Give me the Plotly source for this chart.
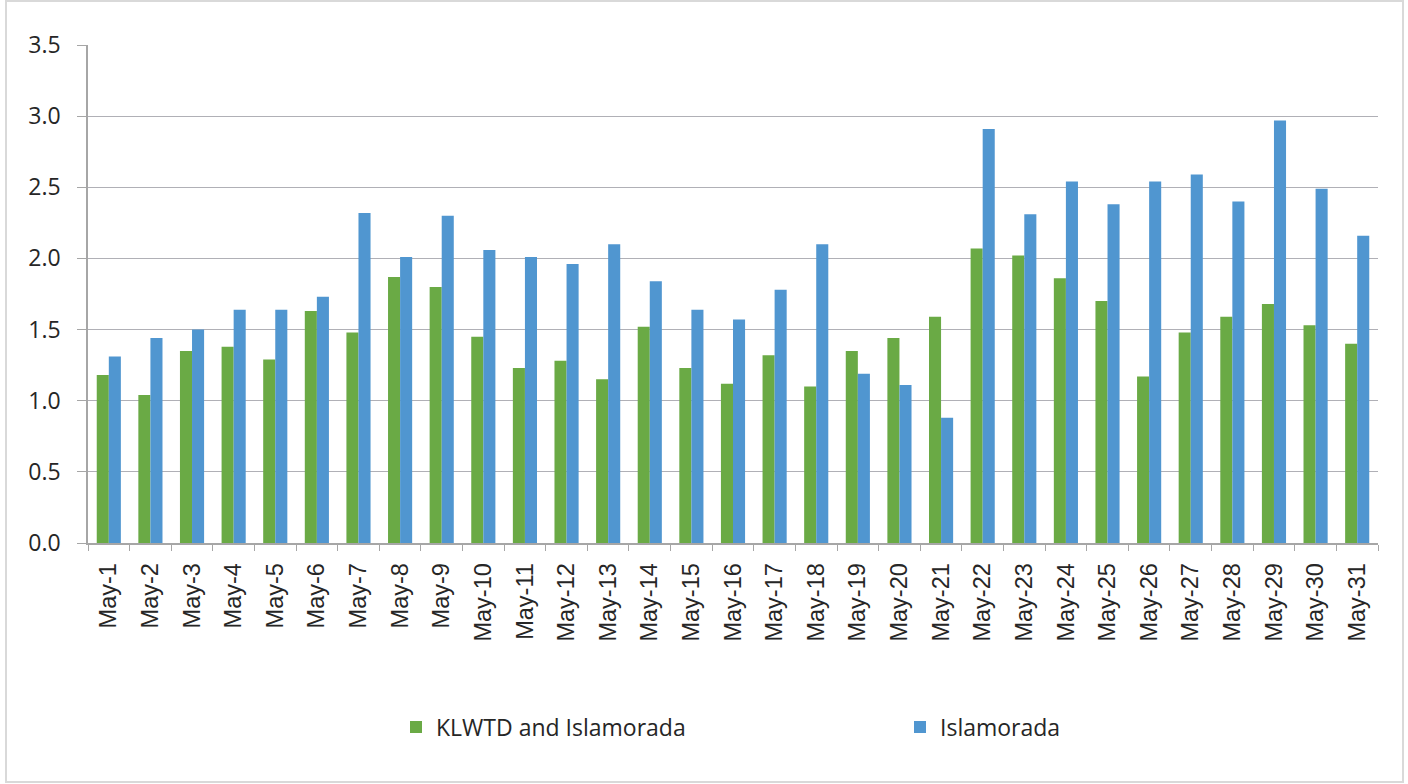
import plotly.graph_objects as go

days = [f"May-{i}" for i in range(1, 32)]
klwtd = [1.18, 1.04, 1.35, 1.38, 1.29, 1.63, 1.48, 1.87, 1.80, 1.45,
         1.23, 1.28, 1.15, 1.52, 1.23, 1.12, 1.32, 1.10, 1.35, 1.44,
         1.59, 2.07, 2.02, 1.86, 1.70, 1.17, 1.48, 1.59, 1.68, 1.53, 1.40]
islamorada = [1.31, 1.44, 1.50, 1.64, 1.64, 1.73, 2.32, 2.01, 2.30, 2.06,
              2.01, 1.96, 2.10, 1.84, 1.64, 1.57, 1.78, 2.10, 1.19, 1.11,
              0.88, 2.91, 2.31, 2.54, 2.38, 2.54, 2.59, 2.40, 2.97, 2.49, 2.16]
yticks = [0.0, 0.5, 1.0, 1.5, 2.0, 2.5, 3.0, 3.5]

W, H = 1408, 784
L, R, T, B = 88, 1378, 45, 543
pw, ph = R - L, B - T

def px(x):
    return (x - L) / pw

def py(y):
    return (B - y) / ph

fig = go.Figure()
fig.add_trace(go.Bar(x=days, y=klwtd, name="KLWTD and Islamorada",
                     marker=dict(color="#6AAA45", line=dict(width=0)),
                     legend="legend"))
fig.add_trace(go.Bar(x=days, y=islamorada, name="Islamorada",
                     marker=dict(color="#5096D0", line=dict(width=0)),
                     legend="legend2"))

leg_common = dict(orientation="h", yanchor="middle", xanchor="left",
                  font=dict(family="Open Sans, sans-serif", size=23, color="#262626"),
                  bgcolor="rgba(0,0,0,0)", itemwidth=30)

fig.update_layout(
    width=W, height=H,
    margin=dict(l=L, r=W - R, t=T, b=H - B, pad=0),
    paper_bgcolor="white", plot_bgcolor="white",
    barmode="group", bargap=0.42, bargroupgap=0,
    font=dict(family="Liberation Sans, Arial, sans-serif", color="#262626", size=18),
    showlegend=True,
    legend=dict(x=px(396), y=py(727), **leg_common),
    legend2=dict(x=px(900), y=py(727), **leg_common),
    xaxis=dict(type="category", tickangle=-90, showgrid=False,
               showline=True, linecolor="#A6A6A6", linewidth=1.5,
               ticks="outside", ticklen=6, tickcolor="#A6A6A6",
               tickson="boundaries", ticklabelstandoff=9,
               tickfont=dict(family="Liberation Sans, Arial, sans-serif", size=23.5, color="#262626"),
               range=[-0.5, 30.5]),
    yaxis=dict(range=[0, 3.5], tickvals=yticks, tickformat=".1f",
               showgrid=True, gridcolor="#B0B0B6", gridwidth=1.3,
               showline=True, linecolor="#A6A6A6", linewidth=1.5,
               ticks="outside", ticklen=9, tickcolor="#A6A6A6",
               ticklabelstandoff=12, zeroline=False,
               tickfont=dict(family="Open Sans, sans-serif", size=23, color="#262626")),
    shapes=[dict(type="rect", xref="paper", yref="paper",
                 x0=px(6), x1=px(1403), y0=py(782), y1=py(1),
                 line=dict(color="#D9D9D9", width=2), layer="below")],
)

fig.write_html("out.html", config={"displayModeBar": False},
               post_script="document.body.style.margin='0';document.body.style.overflow='hidden';")
